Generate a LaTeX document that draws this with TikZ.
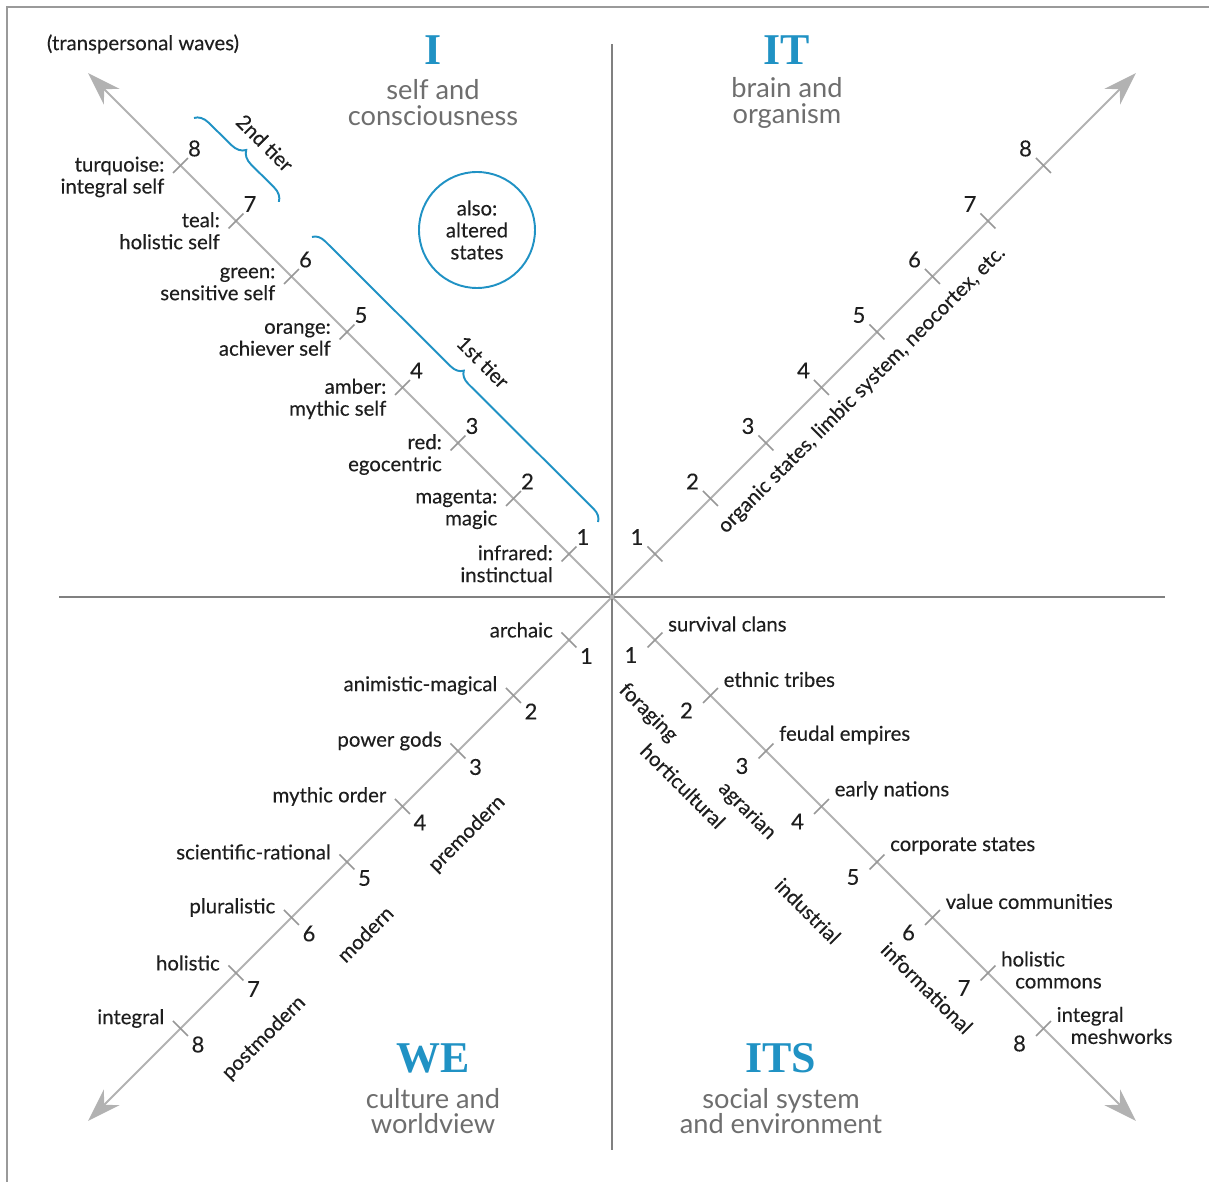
\documentclass[tikz,border=0pt]{standalone}
\usepackage{fontspec}
\setmainfont{Lato}
\newfontfamily\lblfont[FakeBold=0.25]{Lato}
\newfontfamily\headfont{Liberation Serif}
\usetikzlibrary{positioning,calc,arrows.meta,decorations.pathreplacing}

\definecolor{axisgray}{RGB}{178,178,178}
\definecolor{quadgray}{RGB}{128,128,128}
\definecolor{quadblue}{RGB}{32,146,196}
\definecolor{subgray}{RGB}{110,110,110}
\definecolor{labelblack}{RGB}{30,30,30}

\tikzset{
        axis/.style={draw=axisgray, line width=1.1pt, -{Stealth[length=19pt,width=12.5pt,inset=6pt]}}, % the four diagonal arrows
        quadline/.style={draw=quadgray, line width=1.1pt}, % cross between the quadrants
        tickmark/.style={draw=axisgray!85!black, line width=0.9pt},
        lbl/.style={text=labelblack, font=\lblfont\fontsize{11.6}{12.5}\selectfont},
        num/.style={text=labelblack, font=\lblfont\fontsize{12.5}{14}\selectfont},
        quadname/.style={text=quadblue, font=\headfont\bfseries\fontsize{25}{25}\selectfont},
        quadsub/.style={text=subgray, font=\fontsize{15.5}{14.7}\selectfont, align=center},
        tierbrace/.style={draw=quadblue, line width=1.1pt, decorate, decoration={brace, amplitude=#1}},
}

\begin{document}
\begin{tikzpicture}
\useasboundingbox (-12.24,-11.7) rectangle (11.94,11.94);

% frame
\draw[quadgray!80, line width=1pt] (-12.1,-12) -- (-12.1,11.8) -- (12.2,11.8);

% quadrants
\coordinate (O) at (0,0);
\coordinate (west) at (-11.05,0);
\coordinate (east) at (11.05,0);
\coordinate (north) at (0,11.05);
\coordinate (south) at (0,-11.05);
\draw[quadline] (west) -- (east);
\draw[quadline] (north) -- (south);

% arrows
\coordinate (ulend) at (-10.48,10.48);
\coordinate (urend) at (10.48,10.48);
\coordinate (llend) at (-10.48,-10.48);
\coordinate (lrend) at (10.48,-10.48);
\draw[axis] (O) -- (ulend);
\draw[axis] (O) -- (urend);
\draw[axis] (O) -- (llend);
\draw[axis] (O) -- (lrend);

% ticks and numbers
\foreach \k in {1,...,8}{
  \pgfmathsetmacro{\d}{0.86+1.11*(\k-1)}
  \coordinate (ul\k) at (-\d,\d);
  \coordinate (ur\k) at (\d,\d);
  \coordinate (ll\k) at (-\d,-\d);
  \coordinate (lr\k) at (\d,-\d);
  \draw[tickmark] ($(ul\k)+(-0.15,-0.15)$) -- ($(ul\k)+(0.15,0.15)$);
  \draw[tickmark] ($(ur\k)+(-0.15,0.15)$) -- ($(ur\k)+(0.15,-0.15)$);
  \draw[tickmark] ($(ll\k)+(-0.15,0.15)$) -- ($(ll\k)+(0.15,-0.15)$);
  \draw[tickmark] ($(lr\k)+(-0.15,-0.15)$) -- ($(lr\k)+(0.15,0.15)$);
  \node[num] (nul\k) at ($(ul\k)+(0.28,0.34)$) {\k};
  \node[num] (nur\k) at ($(ur\k)+(-0.36,0.34)$) {\k};
  \node[num] (nll\k) at ($(ll\k)+(0.35,-0.32)$) {\k};
  \node[num] (nlr\k) at ($(lr\k)+(-0.48,-0.3)$) {\k};
}

% upper left: self
\foreach \k/\txt in {1/infrared:\\instinctual, 2/magenta:\\magic, 3/red:\\egocentric, 4/amber:\\mythic self,
    5/orange:\\achiever self, 6/green:\\sensitive self, 7/teal:\\holistic self, 8/turquoise:\\integral self}
  \node[lbl, anchor=north east, align=right] (self\k) at ($(ul\k)+(-0.2,0.3)$) {\txt};
\node[lbl] (waves) at (-9.38,11.06) {(transpersonal waves)};

\coordinate (tierA) at (-8.36,9.58);
\coordinate (tierB) at (-6.66,7.9);
\coordinate (tierC) at (-6.0,7.2);
\coordinate (tierD) at (-0.28,1.5);
\draw[tierbrace=0.28cm] (tierA) -- (tierB);
\draw[tierbrace=0.25cm] (tierC) -- (tierD);
\node[lbl, rotate=-45] (second) at (-6.94,9.08) {2nd tier};
\node[lbl, rotate=-45] (first) at (-2.58,4.7) {1st tier};

\node[lbl, draw=quadblue, line width=1.1pt, circle, minimum size=2.32cm, align=center, inner sep=0pt] (altered) at (-2.7,7.34) {also:\\altered\\states};

% upper right: brain
\node[lbl, rotate=45] (organic) at (5.0,4.14) {organic states, limbic system, neocortex, etc.};

% lower left: culture
\foreach \k/\txt in {1/archaic, 2/animistic-magical, 3/power gods, 4/mythic order,
    5/scientific-rational, 6/pluralistic, 7/holistic, 8/integral}
  \node[lbl, anchor=east] (we\k) at ($(ll\k)+(-0.2,0.2)$) {\txt};
\node[lbl, rotate=45] (premodern) at (-2.9,-4.74) {premodern};
\node[lbl, rotate=45] (modern) at (-4.94,-6.74) {modern};
\node[lbl, rotate=45] (postmodern) at (-6.96,-8.82) {postmodern};

% lower right: social system
\foreach \k/\txt in {1/survival clans, 2/ethnic tribes, 3/feudal empires, 4/early nations,
    5/corporate states, 6/value communities}
  \node[lbl, anchor=west] (its\k) at ($(lr\k)+(0.14,0.32)$) {\txt};
\node[lbl, anchor=west, align=left] (its7) at ($(lr7)+(0.14,0.06)$) {holistic\\\hspace{8pt}commons};
\node[lbl, anchor=west, align=left] (its8) at ($(lr8)+(0.14,0.06)$) {integral\\\hspace{8pt}meshworks};
\node[lbl, rotate=-45] (foraging) at (0.72,-2.32) {foraging};
\node[lbl, rotate=-45] (horticultural) at (1.42,-3.78) {horticultural};
\node[lbl, rotate=-45] (agrarian) at (2.7,-4.28) {agrarian};
\node[lbl, rotate=-45] (industrial) at (3.92,-6.28) {industrial};
\node[lbl, rotate=-45] (informational) at (6.3,-7.82) {informational};

% quadrant names
\node[quadname] (I) at (-3.58,10.94) {I};
\node[quadsub] (Isub) at (-3.58,9.88) {self and\\consciousness};
\node[quadname] (IT) at (3.5,10.94) {IT};
\node[quadsub] (ITsub) at (3.5,9.88) {brain and\\organism};
\node[quadname] (WE) at (-3.58,-9.22) {WE};
\node[quadsub] (WEsub) at (-3.58,-10.28) {culture and\\worldview};
\node[quadname] (ITS) at (3.38,-9.22) {ITS};
\node[quadsub] (ITSsub) at (3.38,-10.28) {social system\\and environment};

\end{tikzpicture}
\end{document}
